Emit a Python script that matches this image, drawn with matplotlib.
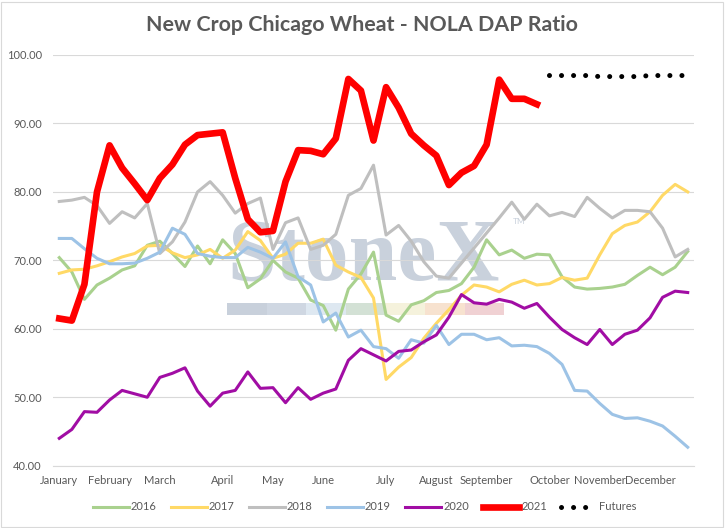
import numpy as np
import matplotlib
matplotlib.use("Agg")
import matplotlib.pyplot as plt
from matplotlib.patches import Rectangle

plt.rcParams['font.family'] = ['Lato', 'DejaVu Sans']

# weekly ratio values, week 0 = first week of January
y2016 = [70.4, 68.3, 64.3, 66.4, 67.4, 68.6, 69.2, 72.2, 72.8, 71.0,
         69.1, 72.1, 69.5, 73.0, 71.0, 66.0, 67.3, 70.0, 68.3, 67.4,
         64.2, 63.4, 59.8, 65.8, 68.0, 71.2, 62.0, 61.1, 63.5, 64.1,
         65.3, 65.6, 66.6, 69.0, 73.0, 70.8, 71.5, 70.3, 70.9, 70.8,
         67.6, 66.1, 65.8, 65.9, 66.1, 66.5, 67.8, 69.0, 67.9, 69.0, 71.3]
y2017 = [68.1, 68.6, 68.7, 69.2, 69.8, 70.5, 71.0, 72.1, 72.2, 71.1,
         70.4, 70.8, 71.6, 70.3, 71.5, 74.2, 72.9, 70.3, 70.9, 72.5,
         72.5, 73.1, 69.3, 68.3, 67.5, 64.5, 52.6, 54.4, 55.8, 58.6,
         60.8, 62.8, 64.9, 66.4, 66.1, 65.4, 66.5, 67.1, 66.4, 66.6,
         67.5, 67.1, 67.4, 70.8, 73.9, 75.1, 75.6, 77.1, 79.5, 81.1, 80.0]
y2018 = [78.6, 78.8, 79.2, 78.0, 75.4, 77.1, 76.2, 78.3, 71.0, 72.7,
         75.6, 80.0, 81.5, 79.5, 76.9, 78.3, 79.1, 71.6, 75.5, 76.2,
         71.6, 72.2, 73.8, 79.5, 80.5, 83.9, 73.7, 75.1, 72.8, 69.8,
         67.7, 67.4, 69.6, 71.8, 74.0, 76.2, 78.5, 76.0, 78.2, 76.5,
         77.0, 76.4, 79.2, 77.6, 76.2, 77.3, 77.3, 77.1, 74.7, 70.5, 71.6]
y2019 = [73.2, 73.2, 71.7, 70.3, 69.5, 69.5, 69.6, 70.3, 71.2, 74.7,
         73.8, 71.0, 70.6, 70.4, 70.4, 71.9, 71.2, 70.3, 72.7, 67.6,
         66.4, 61.0, 62.3, 58.8, 59.8, 57.4, 57.1, 55.7, 58.4, 57.9,
         60.5, 57.7, 59.2, 59.2, 58.4, 58.7, 57.5, 57.6, 57.4, 56.4,
         54.8, 51.0, 50.9, 49.1, 47.5, 46.9, 47.0, 46.5, 45.8, 44.3, 42.7]
y2020 = [44.0, 45.3, 47.9, 47.8, 49.6, 51.0, 50.5, 50.0, 52.9, 53.5,
         54.3, 50.9, 48.7, 50.6, 51.0, 53.7, 51.3, 51.4, 49.2, 51.4,
         49.7, 50.6, 51.2, 55.4, 57.1, 56.2, 55.3, 56.7, 56.9, 58.1,
         59.1, 61.7, 65.0, 63.8, 63.6, 64.3, 63.9, 63.0, 63.7, 61.7,
         59.9, 58.7, 57.7, 59.9, 57.7, 59.2, 59.8, 61.6, 64.6, 65.5, 65.3]
y2021 = [61.5, 61.2, 66.5, 80.0, 86.8, 83.5, 81.2, 78.8, 82.0, 84.0,
         86.9, 88.3, 88.5, 88.7, 82.0, 76.0, 74.1, 74.3, 81.5, 86.1,
         86.0, 85.5, 87.8, 96.5, 94.8, 87.5, 95.3, 92.3, 88.5, 86.8,
         85.3, 81.0, 82.8, 83.8, 86.9, 96.4, 93.6, 93.6, 92.8]
futures = [97.0, 97.0, 97.0, 97.0, 96.85, 96.85, 96.85, 96.85, 97.0, 97.0, 97.0, 97.0]

months = ['January', 'February', 'March', 'April', 'May', 'June', 'July',
          'August', 'September', 'October', 'November', 'December']
month_week = [0, 4, 8, 13, 17, 21, 26, 30, 34, 39, 43, 47]

weeks = np.arange(len(y2016))
fut_weeks = np.arange(len(y2021), len(y2021) + len(futures))

fig = plt.figure(figsize=(7.28, 5.28), dpi=100)
ax = fig.add_axes([53 / 728, 1 - 465.7 / 528, 641 / 728, 410.7 / 528])

# StoneX watermark behind the lines
ax.text(0.2715, 0.452, 'StoneX', transform=ax.transAxes, family='Liberation Serif',
        fontsize=63, fontweight='bold', color='#c9d1dc', ha='left', va='baseline',
        zorder=0.2)
ax.text(0.718, 0.595, 'TM', transform=ax.transAxes, fontsize=6, color='#c9d1dc',
        ha='left', va='center', zorder=0.2)
bar_cols = ['#c8d0db', '#cfd7e2', '#dee8f1', '#d3e1d5', '#f5f2dc', '#f7e2cf', '#f0d1d3']
for k, c in enumerate(bar_cols):
    ax.add_patch(Rectangle((0.2715 + k * 0.0618, 0.367), 0.0618, 0.029,
                           transform=ax.transAxes, color=c, lw=0, zorder=0.2))

ax.plot(weeks, y2016, color='#a9d18e', lw=2.2, label='2016')
ax.plot(weeks, y2017, color='#ffd966', lw=2.2, label='2017')
ax.plot(weeks, y2018, color='#bfbfbf', lw=2.2, label='2018')
ax.plot(weeks, y2019, color='#9dc3e6', lw=2.2, label='2019')
ax.plot(weeks, y2020, color='#a10da4', lw=2.2, label='2020')
ax.plot(np.arange(len(y2021)), y2021, color='#ff0000', lw=4.8, label='2021',
        solid_joinstyle='round')
ax.plot(fut_weeks, futures, color='black', lw=3.6, linestyle=(0, (0.01, 2.4)),
        dash_capstyle='round', label='Futures')

ax.set_xlim(-0.5, len(weeks) - 0.5)
ax.set_ylim(40, 100)
ax.set_yticks(np.arange(40, 101, 10))
ax.set_yticklabels(['%.2f' % v for v in np.arange(40, 101, 10)])
ax.set_xticks(month_week)
ax.set_xticklabels(months)
ax.tick_params(length=0, labelsize=8, colors='#595959')
ax.tick_params(axis='y', pad=8)
ax.tick_params(axis='x', pad=7)
ax.set_axisbelow(True)
ax.yaxis.grid(True, color='#d9d9d9', lw=0.8)
for s in ['top', 'right', 'left']:
    ax.spines[s].set_visible(False)
ax.spines['bottom'].set_color('#d9d9d9')
ax.spines['bottom'].set_linewidth(0.8)

fig.text(0.497, 1 - 25 / 528, 'New Crop Chicago Wheat - NOLA DAP Ratio',
         ha='center', va='center', fontsize=15.4, fontweight='bold', color='#595959')

fig.legend(loc='center', bbox_to_anchor=(0.501, 1 - 507 / 528), ncol=7, frameon=False,
           fontsize=8, handlelength=3.2, handletextpad=0.2, columnspacing=1.3,
           labelcolor='#595959')

fig.add_artist(Rectangle((0.5 / 728, 1.5 / 528), 722.5 / 728, 525 / 528,
                         transform=fig.transFigure, fill=False, ec='#d9d9d9', lw=0.8))

fig.savefig('out.png', dpi=100)
